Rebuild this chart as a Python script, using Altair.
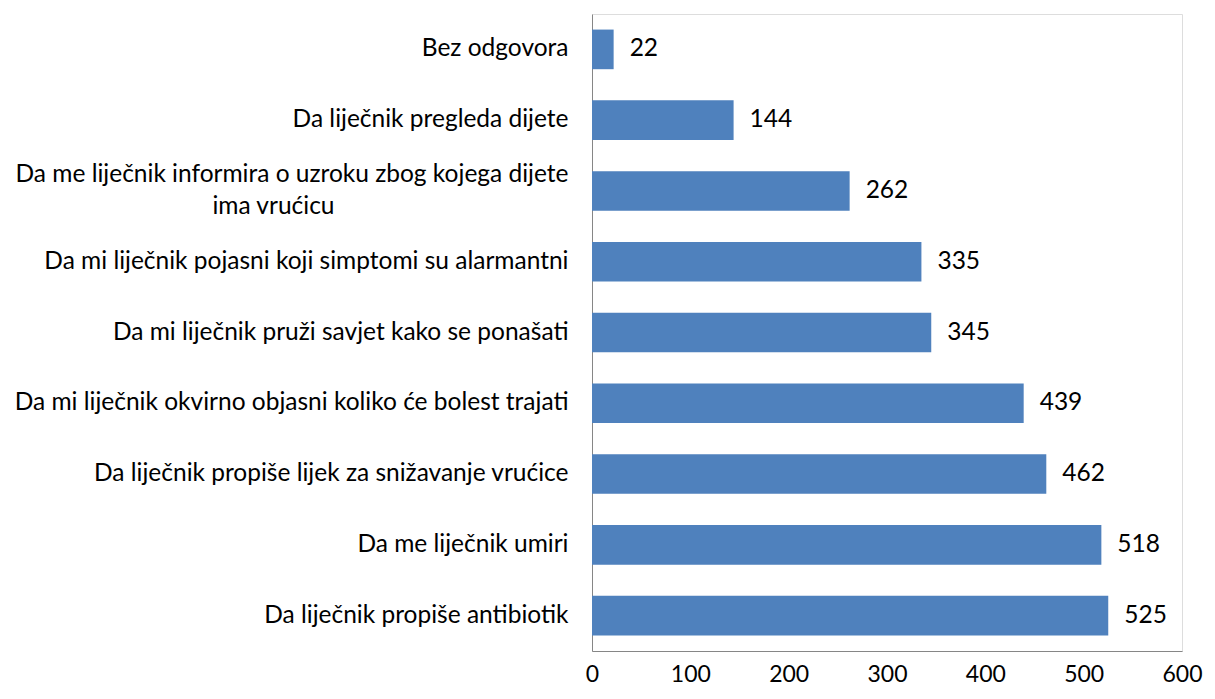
import altair as alt
import pandas as pd

categories = [
    "Bez odgovora",
    "Da liječnik pregleda dijete",
    "Da me liječnik informira o uzroku zbog kojega dijete\nima vrućicu" + "\u2800" * 13,
    "Da mi liječnik pojasni koji simptomi su alarmantni",
    "Da mi liječnik pruži savjet kako se ponašati",
    "Da mi liječnik okvirno objasni koliko će bolest trajati",
    "Da liječnik propiše lijek za snižavanje vrućice",
    "Da me liječnik umiri",
    "Da liječnik propiše antibiotik",
]
values = [22, 144, 262, 335, 345, 439, 462, 518, 525]
x_ticks = [0, 100, 200, 300, 400, 500, 600]

df = pd.DataFrame({"cat": categories, "val": values})

FONT = "Lato"
FS = 24.5

y_enc = alt.Y(
    "cat:N",
    sort=categories,
    title=None,
    scale=alt.Scale(paddingInner=0.44, paddingOuter=0.22),
    axis=alt.Axis(
        ticks=False,
        labelFontSize=FS,
        labelFont=FONT,
        labelColor="#000000",
        labelPadding=24,
        labelLimit=0,
        labelLineHeight=32,
        domainColor="#868686",
        labelExpr="split(datum.label, '\\n')",
        labelOffset={
            "condition": {"test": "indexof(datum.value, '\\n') >= 0", "value": -16},
            "value": 0,
        },
    ),
)
x_enc = alt.X(
    "val:Q",
    title=None,
    scale=alt.Scale(domain=[0, 600], nice=False),
    axis=alt.Axis(
        values=x_ticks,
        grid=False,
        ticks=False,
        labelFontSize=23,
        labelFont=FONT,
        labelColor="#000000",
        labelPadding=12,
        domainColor="#868686",
        labelFlush=False,
    ),
)

bars = alt.Chart(df).mark_bar(color="#4F81BD").encode(x=x_enc, y=y_enc)
labels = alt.Chart(df).mark_text(
    align="left", baseline="middle", dx=16, fontSize=FS, font=FONT, color="#000000"
).encode(x="val:Q", y=alt.Y("cat:N", sort=categories), text="val:Q")

chart = (
    alt.layer(bars, labels)
    .properties(
        width=590,
        height=637,
        autosize=alt.AutoSizeParams(type="none"),
        padding={"left": 584, "top": 6, "right": 24, "bottom": 38},
    )
    .configure_view(stroke=None)
    .configure(background="#ffffff")
)

chart.save("out.html", embed_options={"renderer": "svg", "actions": False})
